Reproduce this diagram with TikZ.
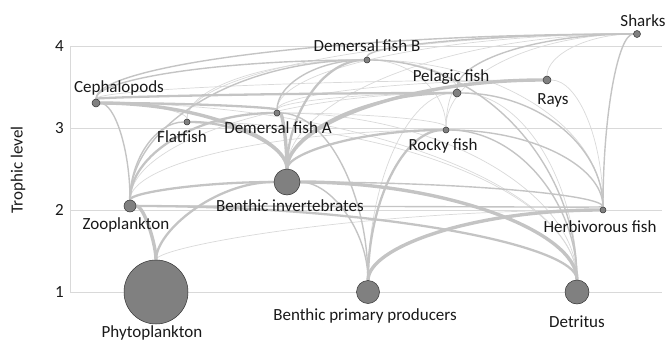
\documentclass[tikz,border=0pt]{standalone}
\usepackage{fontspec}
\setmainfont{Carlito}
\usetikzlibrary{calc, backgrounds}

\tikzset{
  sp/.style={circle, draw=black!80, line width=0.5pt, fill=black!50, inner sep=0pt},
  tag/.style={font=\fontsize{17}{20}\selectfont, text=black!90, inner sep=0pt},
  grid/.style={draw=black!15, line width=0.8pt},
  flow/.style={draw=black!23, line cap=round,
    to path={let \p1=(\tikztostart), \p2=(\tikztotarget) in
      .. controls (\x1,{\y1+0.55*(\y2-\y1)}) and ({\x2+0.55*(\x1-\x2)},\y2) .. (\tikztotarget)}},
  weak/.style={flow, draw=black!15, line width=0.7pt},
  mid/.style={flow, line width=1.4pt},
  strong/.style={flow, line width=2.3pt},
  heavy/.style={flow, line width=3.4pt},
}

\begin{document}
\begin{tikzpicture}[x=1pt, y=-1pt]
    \useasboundingbox (0,0) rectangle (667,343);

    % groups
    \node[sp, minimum size=64pt] (phyto)  at (156,292) {};
    \node[sp, minimum size=23pt] (bpp)    at (368,292) {};
    \node[sp, minimum size=24pt] (det)    at (577,292) {};
    \node[sp, minimum size=12pt] (zoo)    at (130,206) {};
    \node[sp, minimum size=26pt] (benth)  at (287,182) {};
    \node[sp, minimum size=6pt]  (herb)   at (603,210) {};
    \node[sp, minimum size=6pt]  (rocky)  at (446,130) {};
    \node[sp, minimum size=6pt]  (flat)   at (187,122) {};
    \node[sp, minimum size=6pt]  (demA)   at (277,113) {};
    \node[sp, minimum size=8pt]  (ceph)   at (96,103) {};
    \node[sp, minimum size=8pt]  (pel)    at (457,93) {};
    \node[sp, minimum size=8pt]  (rays)   at (547,80) {};
    \node[sp, minimum size=6pt]  (demB)   at (367,60) {};
    \node[sp, minimum size=7pt]  (sharks) at (637,34) {};

    % names
    \node[tag] (phytoL)  at (152,333) {Phytoplankton};
    \node[tag] (bppL)    at (365,316) {Benthic primary producers};
    \node[tag] (detL)    at (577,322) {Detritus};
    \node[tag] (zooL)    at (126,225) {Zooplankton};
    \node[tag] (benthL)  at (290,206) {Benthic invertebrates};
    \node[tag] (herbL)   at (600,227) {Herbivorous fish};
    \node[tag] (rockyL)  at (443,146) {Rocky fish};
    \node[tag] (flatL)   at (182,137) {Flatfish};
    \node[tag] (demAL)   at (278,128) {Demersal fish A};
    \node[tag] (cephL)   at (119,88) {Cephalopods};
    \node[tag] (pelL)    at (451,77) {Pelagic fish};
    \node[tag] (raysL)   at (553,100) {Rays};
    \node[tag] (demBL)   at (367,46) {Demersal fish B};
    \node[tag] (sharksL) at (643,21) {Sharks};

    % axis
    \node[tag, anchor=east] (t4) at (64,46) {4};
    \node[tag, anchor=east] (t3) at (64,128) {3};
    \node[tag, anchor=east] (t2) at (64,210) {2};
    \node[tag, anchor=east] (t1) at (64,292) {1};
    \node[tag, rotate=90] (ytitle) at (18,170) {Trophic level};

    \begin{pgfonlayer}{background}
    \draw[grid] (70,46) -- (70,292);
    \draw[grid] (70,46) -- (662,46);
    \draw[grid] (70,128) -- (662,128);
    \draw[grid] (70,210) -- (662,210);
    \draw[grid] (70,292) -- (662,292);

    % thin flows
    \draw[weak] (phyto) to (herb);
    \draw[weak] (zoo) to (pel);
    \draw[weak] (zoo) to (rocky);
    \draw[weak] (det) to (pel);
    \draw[weak] (det) to (demA);
    \draw[weak] (det) to (ceph);
    \draw[weak] (det) to (flat);
    \draw[weak] (bpp) to (pel);
    \draw[weak] (flat) to (demB);
    \draw[weak] (flat) to (sharks);
    \draw[weak] (demA) to (sharks);
    \draw[weak] (demA) to (pel);
    \draw[weak] (demA) to (rays);
    \draw[weak] (rocky) to (pel);
    \draw[weak] (rocky) to (demB);
    \draw[weak] (rocky) to (sharks);
    \draw[weak] (rocky) to (demA);
    \draw[weak] (pel) to (demB);
    \draw[weak] (herb) to (demB);
    \draw[weak] (herb) to (rays);
    \draw[weak] (rays) to (sharks);
    \draw[weak] (benth) to (sharks);
    \draw[weak] (ceph) to (rays);
    \draw[weak] (flat) to (ceph);

    % middle flows
    \draw[mid] (zoo) to (ceph);
    \draw[mid] (zoo) to (flat);
    \draw[mid] (zoo) to (demB);
    \draw[mid] (det) to (rocky);
    \draw[mid] (det) to (demB);
    \draw[mid] (bpp) to (demA);
    \draw[mid] (bpp) to (benth);
    \draw[mid] (ceph) to (demB);
    \draw[mid] (ceph) to (sharks);
    \draw[mid] (demB) to (sharks);
    \draw[mid] (pel) to (sharks);
    \draw[mid] (herb) to (sharks);
    \draw[mid] (herb) to (pel);
    \draw[mid] (herb) to (rocky);
    \draw[mid] (herb) to (benth);
    \draw[mid] (herb) to (zoo);
    \draw[mid] (demA) to (demB);

    % strong flows
    \draw[strong] (phyto) to (benth);
    \draw[strong] (zoo) to (benth);
    \draw[strong] (zoo) to (demA);
    \draw[strong] (benth) to (pel);
    \draw[strong] (benth) to (demB);
    \draw[strong] (benth) to (flat);
    \draw[strong] (benth) to (rocky);
    \draw[strong] (det) to (zoo);
    \draw[strong] (bpp) to (rocky);
    \draw[strong] (demA) to (ceph);
    \draw[strong] (ceph) to (pel);

    % heavy flows
    \draw[heavy] (phyto) to (zoo);
    \draw[heavy] (benth) to (demA);
    \draw[heavy] (benth) to (ceph);
    \draw[heavy] (det) to (benth);
    \draw[heavy] (bpp) to (herb);
    \draw[heavy] (benth) to (rays);
    \end{pgfonlayer}
\end{tikzpicture}
\end{document}
